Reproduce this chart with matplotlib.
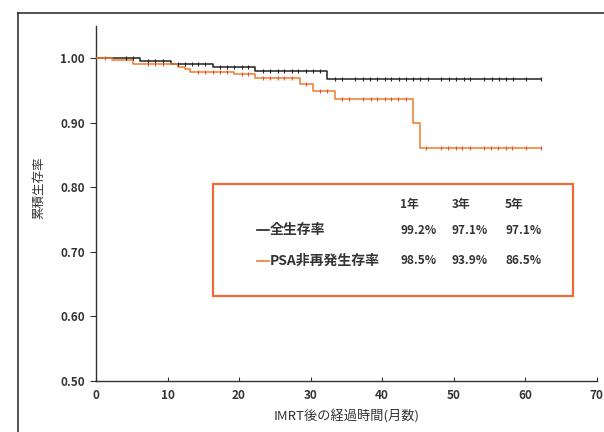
import numpy as np
import matplotlib
matplotlib.use("Agg")
import matplotlib.pyplot as plt
from matplotlib.lines import Line2D
from matplotlib.patches import Rectangle

plt.rcParams['font.family'] = ['Noto Sans CJK JP', 'DejaVu Sans']

# overall survival (black)
os_time = [0, 6.2, 10.5, 16.3, 22.3, 32.3]
os_surv = [1.000, 0.996, 0.991, 0.987, 0.980, 0.968]
os_censor = [4.2, 5.2, 7.3, 8.3, 9.4, 11.5, 12.4, 13.4, 14.3, 15.2, 17.3, 18.3, 19.3,
             20.4, 21.3, 23.4, 24.3, 25.4, 26.3, 27.4, 28.3, 29.4, 30.3, 31.3, 33.4,
             34.4, 36.2, 37.4, 38.3, 39.3, 40.4, 41.3, 42.4, 43.4, 44.3, 45.3, 46.4,
             48.3, 49.4, 50.3, 51.4, 52.3, 54.3, 55.4, 56.3, 57.3, 58.3, 60.2, 62.2]

# PSA recurrence-free survival (orange)
psa_time = [0, 2.3, 5.2, 11.4, 12.4, 13.2, 19.3, 22.3, 28.5, 30.3, 33.4, 44.3, 45.3]
psa_surv = [1.000, 0.997, 0.991, 0.987, 0.983, 0.979, 0.975, 0.969, 0.960, 0.949,
            0.937, 0.899, 0.861]
psa_censor = [1.3, 7.3, 8.3, 9.4, 14.3, 15.2, 16.3, 17.3, 18.3, 20.4, 21.3, 23.4, 24.3,
              25.4, 26.3, 27.4, 29.4, 31.3, 32.3, 34.4, 35.4, 37.4, 38.4, 39.3, 40.4,
              41.3, 42.3, 43.4, 46.2, 48.2, 49.3, 50.3, 51.2, 52.3, 54.3, 55.3, 56.2,
              57.3, 58.2, 60.2, 62.2]
t_end = 62.2

col_years = ['1年', '3年', '5年']
row_names = ['全生存率', 'PSA非再発生存率']
row_values = [['99.2%', '97.1%', '97.1%'], ['98.5%', '93.9%', '86.5%']]

BLACK = '#222222'
ORANGE = '#F07A2A'
ORANGE_MK = '#E8503A'
BOX = '#EA6A3A'
TXT = '#333333'

W, H = 604, 432
fig = plt.figure(figsize=(W / 100, H / 100), dpi=100)
ax = fig.add_axes([96 / W, 1 - 381 / H, (596.5 - 96) / W, (381 - 26) / H])


def surv_at(times, surv, t):
    idx = np.searchsorted(times, t, side='right') - 1
    return np.array(surv)[idx]


for times, surv, cens, lc, mc in [(os_time, os_surv, os_censor, BLACK, BLACK),
                                   (psa_time, psa_surv, psa_censor, ORANGE, ORANGE_MK)]:
    ax.step(times + [t_end], surv + [surv[-1]], where='post', color=lc, lw=1.1, zorder=3)
    ax.plot(cens, surv_at(times, surv, cens), ls='none', marker='|', ms=3.5,
            mew=0.8, color=mc, zorder=4)

ax.set_xlim(0, 70)
ax.set_ylim(0.5, 1.05)
ax.set_xticks(np.arange(0, 71, 10))
ax.set_yticks(np.arange(0.5, 1.01, 0.1))
ax.set_yticklabels([f'{v:.2f}' for v in np.arange(0.5, 1.01, 0.1)])
for s in ['top', 'right']:
    ax.spines[s].set_visible(False)
for s in ['left', 'bottom']:
    ax.spines[s].set_color('#333333')
    ax.spines[s].set_linewidth(1.0)
ax.tick_params(axis='y', direction='out', length=4, labelsize=8.5, colors='#333333',
               labelcolor=TXT, pad=4)
ax.tick_params(axis='x', direction='in', length=3, labelsize=8.5, colors='#333333',
               labelcolor=TXT, pad=6)
for lab in ax.get_xticklabels() + ax.get_yticklabels():
    lab.set_fontweight('bold')
ax.set_xlabel('IMRT後の経過時間(月数)', fontsize=9.5, color=TXT)
ax.set_ylabel('累積生存率', fontsize=9, color=TXT)
ax.xaxis.set_label_coords(0.5, -0.079)
ax.yaxis.set_label_coords(-0.102, 0.544)

# outer frame of the scanned page
fx = 18 / W
fy = 1 - 12.5 / H
fig.add_artist(Line2D([fx, fx], [0, fy], transform=fig.transFigure, color='#333333', lw=1.2))
fig.add_artist(Line2D([fx, 1], [fy, fy], transform=fig.transFigure, color='#333333', lw=1.2))

# summary box
def px(x, y):
    return x / W, 1 - y / H

bx0, by0 = px(213, 296)
bx1, by1 = px(573, 184)
fig.add_artist(Rectangle((bx0, by0), bx1 - bx0, by1 - by0, transform=fig.transFigure,
                         fill=False, edgecolor=BOX, lw=1.6))

col_x = [400, 452, 505]
for cx, lab in zip(col_x, col_years):
    fig.text(*px(cx, 205), lab, fontsize=8.5, fontweight='bold', color=TXT, va='center')

row_y = [230, 261]
row_colors = [BLACK, ORANGE]
for ry, name, vals, rc in zip(row_y, row_names, row_values, row_colors):
    x0, y0 = px(257, ry)
    x1, _ = px(269, ry)
    fig.add_artist(Line2D([x0, x1], [y0, y0], transform=fig.transFigure, color=rc, lw=1.2))
    fig.text(*px(270, ry), name, fontsize=10, fontweight='bold', color=TXT, va='center')
    for cx, v in zip(col_x, vals):
        fig.text(*px(cx, ry), v, fontsize=8.5, fontweight='bold', color=TXT, va='center')

fig.savefig('out.png', dpi=100)
